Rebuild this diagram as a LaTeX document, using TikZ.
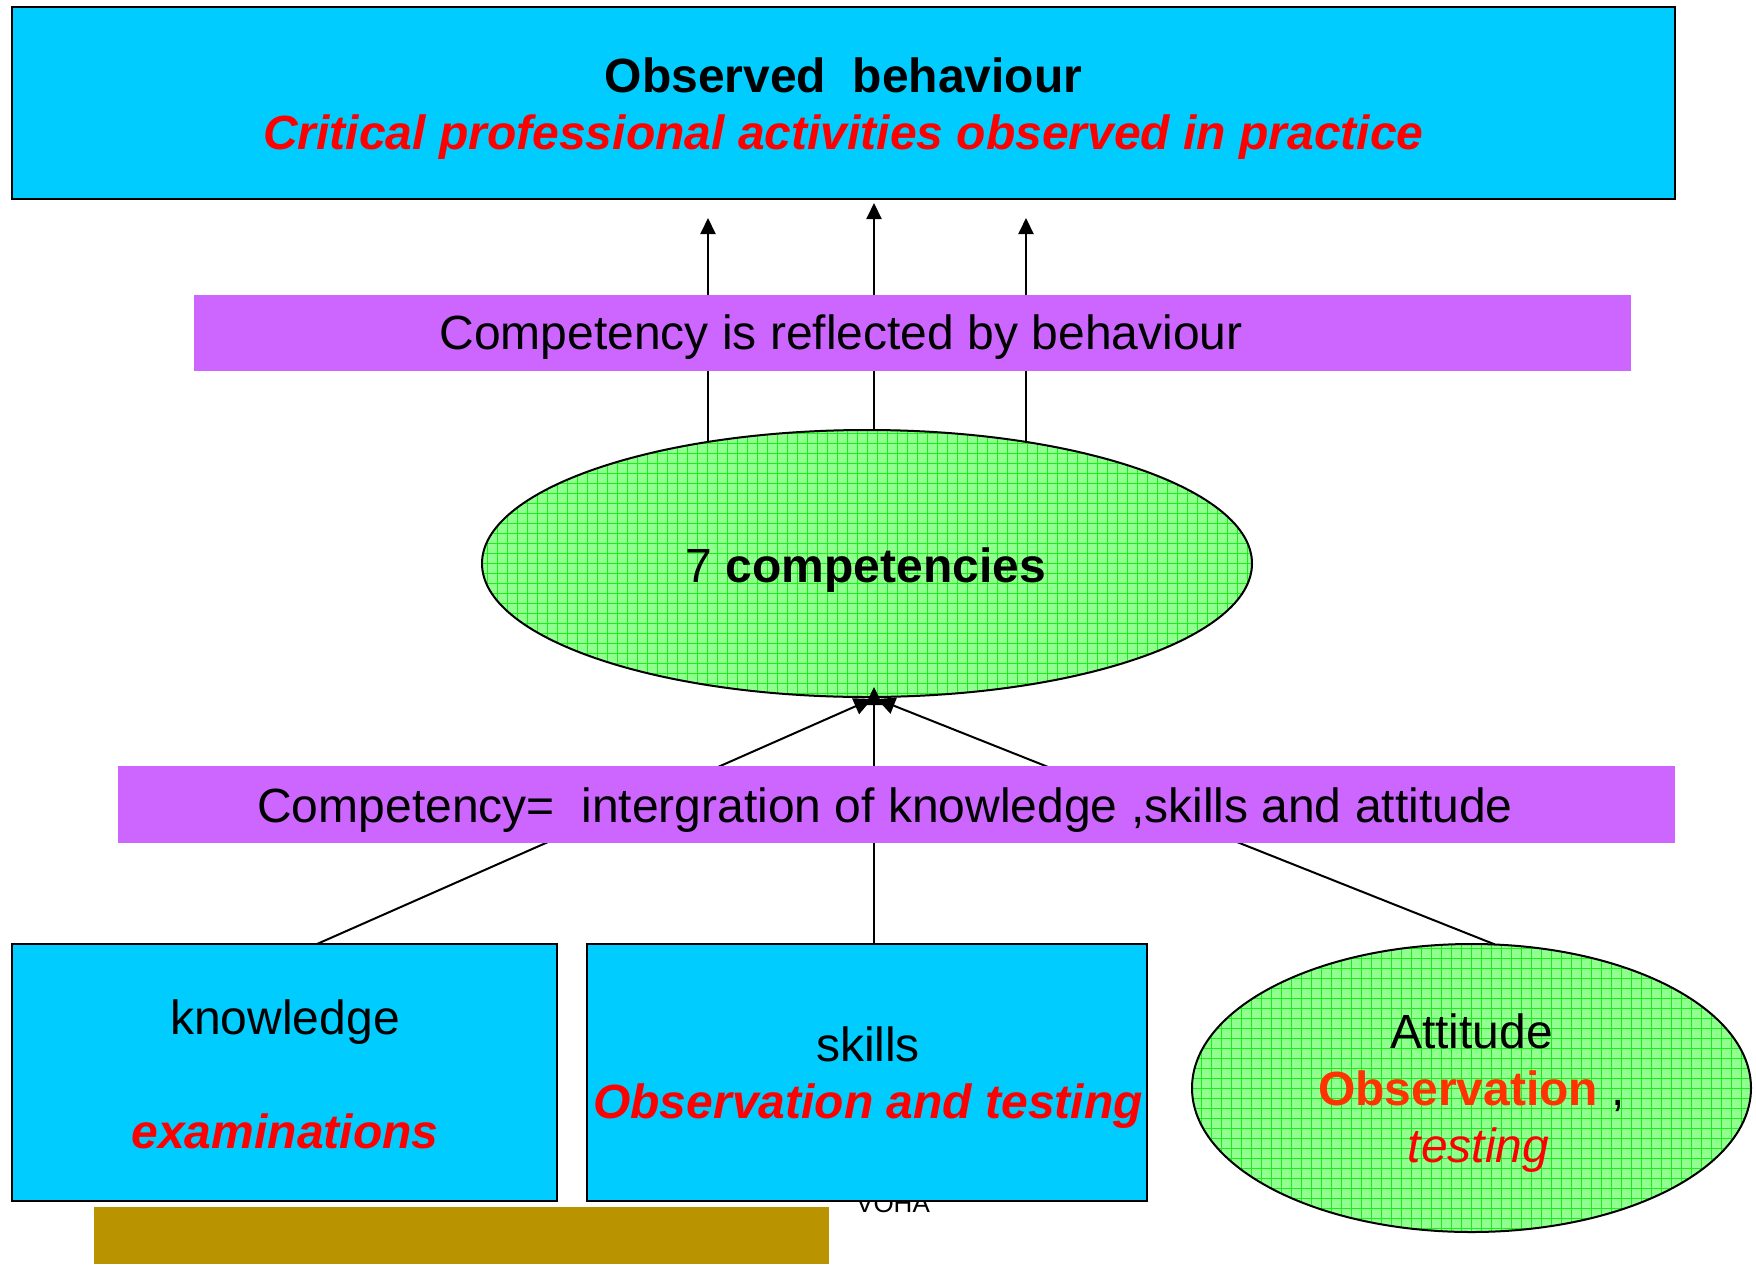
\documentclass[tikz,border=0pt]{standalone}
\usepackage{fontspec}
\setmainfont{Liberation Sans}
\usetikzlibrary{arrows.meta,shapes.geometric}
\definecolor{boxcyan}{HTML}{00CCFF}
\definecolor{bandpurple}{HTML}{CC66FF}
\definecolor{ellgreen}{HTML}{90FF90}
\definecolor{gridgreen}{HTML}{1CEE1C}
\definecolor{goldbar}{HTML}{B99400}
\definecolor{orred}{HTML}{FF3300}
\begin{document}
\begin{tikzpicture}[x=1pt,y=-1pt,
  cbox/.style={draw=black, line width=2pt, fill=boxcyan, rectangle, inner sep=0pt},
  bandbox/.style={fill=bandpurple, rectangle, inner sep=0pt, draw=none},
  gell/.style={ellipse, draw=black, line width=2pt, fill=ellgreen, inner sep=0pt,
    path picture={\draw[gridgreen, line width=0.9pt, step=10pt]
      (path picture bounding box.south west) grid (path picture bounding box.north east);}},
  big/.style={font=\fontsize{48}{57}\selectfont, align=center, inner sep=0pt},
  conn/.style={line width=2pt, draw=black},
  tipA/.style={-{Triangle[width=15pt,length=16pt]}},
  tipB/.style={-{Triangle[width=17pt,length=18pt]}}
]
\useasboundingbox (0,0) rectangle (1756,1264);

% top box
\node[cbox, minimum width=1663pt, minimum height=192pt] (obs) at (843.5,103) {};
\node[big] (obst) at (843.5,109) {{\bfseries Observed\ \ behaviour}\\{\color{red}\bfseries\itshape Critical professional activities observed in practice}};

% central ellipse
\node[gell, minimum width=770pt, minimum height=267pt] (comp) at (867,563.5) {};
\node[big] (compt) at (866,570) {7 \textbf{competencies}};

% upper arrows
\coordinate (t1s) at (708,441);
\coordinate (t1e) at (708,218);
\coordinate (t2s) at (874,430);
\coordinate (t2e) at (874,203);
\coordinate (t3s) at (1026,441);
\coordinate (t3e) at (1026,218);
\draw[conn, tipA] (t1s) -- (t1e);
\draw[conn, tipA] (t2s) -- (t2e);
\draw[conn, tipA] (t3s) -- (t3e);

% VOHA (behind skills box)
\node[font=\fontsize{26}{30}\selectfont, anchor=base, inner sep=0pt] (voha) at (893,1212) {VOHA};

% bottom boxes
\node[cbox, minimum width=545pt, minimum height=257pt] (know) at (284.5,1072.5) {};
\node[big] (knowt) at (285,1074) {knowledge\\[57pt]{\color{red}\bfseries\itshape examinations}};
\node[cbox, minimum width=560pt, minimum height=257pt] (skill) at (867,1072.5) {};
\node[big] (skillt) at (868,1078) {skills\\{\color{red}\bfseries\itshape Observation and testing}};
\node[gell, minimum width=559pt, minimum height=288pt] (att) at (1471.5,1088) {};
\node[big] (attt) at (1471.5,1093) {Attitude\\{\color{orred}\bfseries Observation} ,\\\hspace*{14pt}{\color{red}\itshape testing}};

% gold bar
\node[fill=goldbar, draw=none, inner sep=0pt, minimum width=735pt, minimum height=57pt] (gbar) at (461.5,1235.5) {};

% lower connectors
\coordinate (k1) at (317,944);
\coordinate (k1e) at (872,699);
\coordinate (s1) at (874,944);
\coordinate (s1e) at (874,687);
\coordinate (a1) at (1495,944.5);
\coordinate (a1e) at (877,699);
\draw[conn, tipB] (k1) -- (k1e);
\draw[conn, tipB] (s1) -- (s1e);
\draw[conn, tipB] (a1) -- (a1e);

% bands (over connectors)
\node[bandbox, minimum width=1437pt, minimum height=76pt] (b1) at (912.5,333) {};
\node[big] (b1t) at (841,337.5) {Competency is reflected by behaviour};
\node[bandbox, minimum width=1557pt, minimum height=77pt] (b2) at (896.5,804.5) {};
\node[big] (b2t) at (885,810.5) {Competency=\ \ intergration of knowledge ,skills and attitude};
\end{tikzpicture}
\end{document}
